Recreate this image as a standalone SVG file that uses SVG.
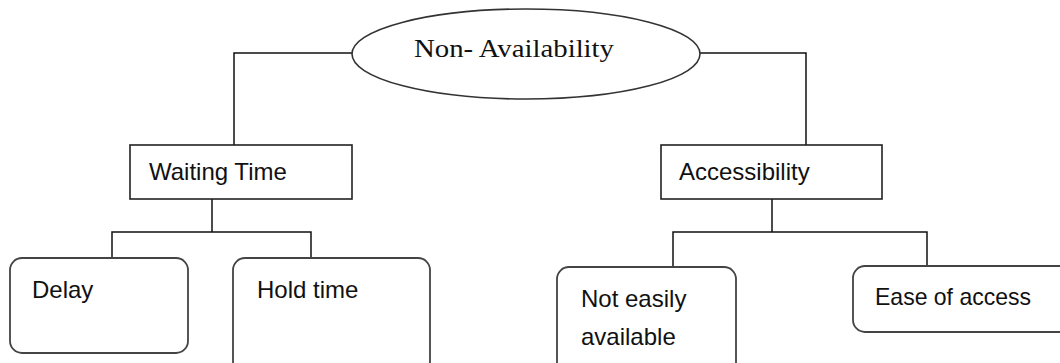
<svg xmlns="http://www.w3.org/2000/svg" width="1060" height="363" viewBox="0 0 1060 363">
<style>
.conn{fill:none;stroke:#111;stroke-width:1.5}
.box{fill:#fff;stroke:#222;stroke-width:1.6}
.rbox{fill:#fff;stroke:#444;stroke-width:1.8}
.lbl{font-family:"Liberation Sans",Arial,sans-serif;font-size:24px;fill:#111}
.title{font-family:"Liberation Serif","Times New Roman",serif;font-size:26px;fill:#111}
</style>
<rect width="1060" height="363" fill="#fff"/>
<g id="connectors">
<polyline class="conn" points="352,53 234,53 234,145"/>
<polyline class="conn" points="700,53 806,53 806,145"/>
<line class="conn" x1="212" y1="199" x2="212" y2="232"/>
<polyline class="conn" points="112,258 112,232 311,232 311,258"/>
<line class="conn" x1="772" y1="199" x2="772" y2="232"/>
<polyline class="conn" points="673,267 673,232 927,232 927,266"/>
</g>
<g id="non-availability">
<ellipse cx="526" cy="54" rx="174" ry="45" fill="#fff" stroke="#333" stroke-width="1.6"/>
<text class="title" x="414" y="57" textLength="200" lengthAdjust="spacingAndGlyphs">Non- Availability</text>
</g>
<g id="waiting-time">
<rect class="box" x="130" y="145" width="222" height="54"/>
<text class="lbl" x="149" y="180">Waiting Time</text>
</g>
<g id="accessibility">
<rect class="box" x="661" y="145" width="221" height="54"/>
<text class="lbl" x="679" y="180">Accessibility</text>
</g>
<g id="delay">
<rect class="rbox" x="10" y="258" width="178" height="95" rx="12"/>
<text class="lbl" x="32" y="298">Delay</text>
</g>
<g id="hold-time">
<rect class="rbox" x="233" y="258" width="197" height="115" rx="12"/>
<text class="lbl" x="257" y="298">Hold time</text>
</g>
<g id="not-easily-available">
<rect class="rbox" x="557" y="267" width="179" height="110" rx="12"/>
<text class="lbl" x="581" y="307">Not easily</text>
<text class="lbl" x="581" y="345">available</text>
</g>
<g id="ease-of-access">
<rect class="rbox" x="853" y="266" width="220" height="66" rx="12"/>
<text class="lbl" x="875" y="305" textLength="156" lengthAdjust="spacingAndGlyphs">Ease of access</text>
</g>
</svg>
